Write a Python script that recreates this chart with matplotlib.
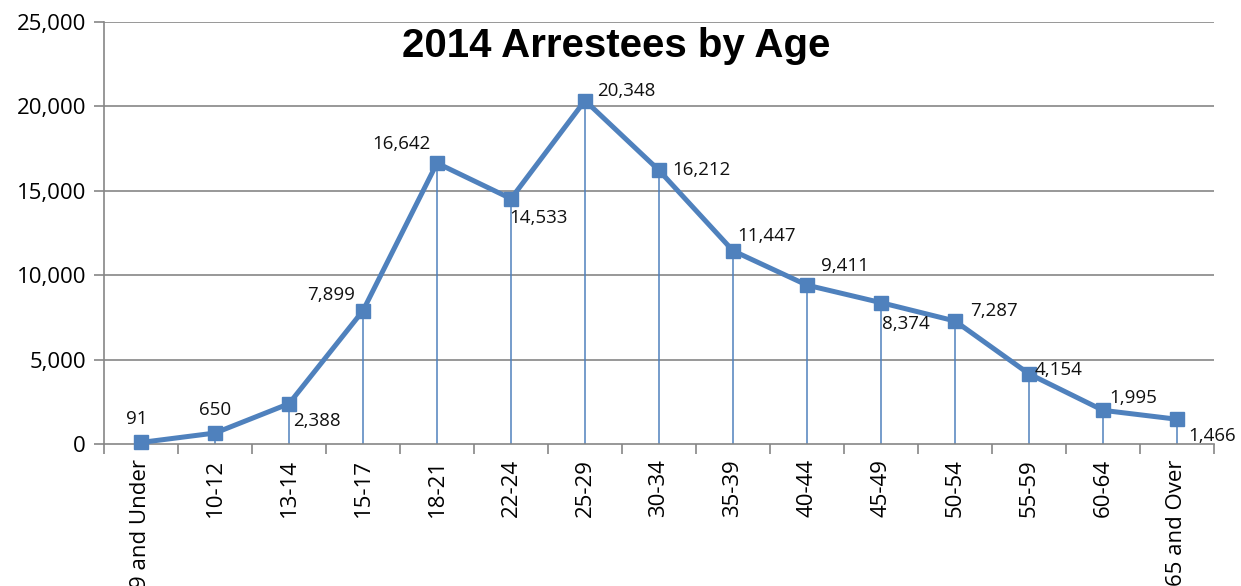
import matplotlib
matplotlib.use("Agg")
import matplotlib.pyplot as plt
import numpy as np

categories = ["9 and Under", "10-12", "13-14", "15-17", "18-21", "22-24", "25-29",
              "30-34", "35-39", "40-44", "45-49", "50-54", "55-59", "60-64", "65 and Over"]
arrestees = [91, 650, 2388, 7899, 16642, 14533, 20348, 16212, 11447, 9411, 8374, 7287, 4154, 1995, 1466]
value_labels = ["91", "650", "2,388", "7,899", "16,642", "14,533", "20,348", "16,212",
                "11,447", "9,411", "8,374", "7,287", "4,154", "1,995", "1,466"]
y_ticks = [0, 5000, 10000, 15000, 20000, 25000]
y_tick_labels = ["0", "5,000", "10,000", "15,000", "20,000", "25,000"]

# label offsets in pixels (dx, dy, ha, va)
offsets = [(-4, 14, "center", "bottom"), (0, 14, "center", "bottom"), (4, -8, "left", "top"),
           (-8, 7, "right", "bottom"), (-6, 10, "right", "bottom"), (-2, -10, "left", "top"),
           (12, 1, "left", "bottom"), (13, 0, "left", "center"), (4, 6, "left", "bottom"),
           (14, 10, "left", "bottom"), (1, -12, "left", "top"), (15, 1, "left", "bottom"),
           (6, -5, "left", "bottom"), (6, 3, "left", "bottom"), (11, -8, "left", "top")]

color = "#4F81BD"
grid_c = "#868686"

fig = plt.figure(figsize=(12.41, 5.86), dpi=100)
ax = fig.add_axes([104 / 1241, 1 - 444 / 586, (1214 - 104) / 1241, (444 - 22) / 586])

x = np.arange(len(categories))
ax.set_xlim(-0.5, len(categories) - 0.5)
ax.set_ylim(0, 25000)

for xi, yi in zip(x, arrestees):
    ax.plot([xi, xi], [0, yi], color=color, lw=1.1, zorder=2)
ax.plot(x, arrestees, color=color, lw=3.6, marker="s", markersize=10,
        markerfacecolor=color, markeredgecolor=color, zorder=3, clip_on=False)

for xi, yi, lab, (dx, dy, ha, va) in zip(x, arrestees, value_labels, offsets):
    ax.annotate(lab, (xi, yi), xytext=(dx, dy), textcoords="offset pixels",
                ha=ha, va=va, fontsize=13.5, family="Open Sans", color="#111111", zorder=4)

for t in y_ticks[1:]:
    ax.axhline(t, color=grid_c, lw=1.2, zorder=1)

ax.set_yticks(y_ticks)
ax.set_yticklabels(y_tick_labels, fontsize=16, family="Open Sans")
ax.set_xticks(x)
ax.set_xticklabels(categories, rotation=90, fontsize=16, family="Open Sans", va="top")
ax.set_xticks(np.arange(len(categories) + 1) - 0.5, minor=True)
ax.tick_params(axis="x", which="major", length=0, pad=11)
ax.tick_params(axis="x", which="minor", length=7, color=grid_c, width=1.2)
ax.tick_params(axis="y", length=7, color=grid_c, width=1.2, pad=6)

for s in ["top", "right"]:
    ax.spines[s].set_visible(False)
for s in ["left", "bottom"]:
    ax.spines[s].set_color(grid_c)
    ax.spines[s].set_linewidth(1.2)

fig.text(616 / 1241, 1 - 46 / 586, "2014 Arrestees by Age", ha="center", va="center",
         fontsize=29, fontweight="bold", family="Liberation Sans")

fig.savefig("out.png", dpi=100)
